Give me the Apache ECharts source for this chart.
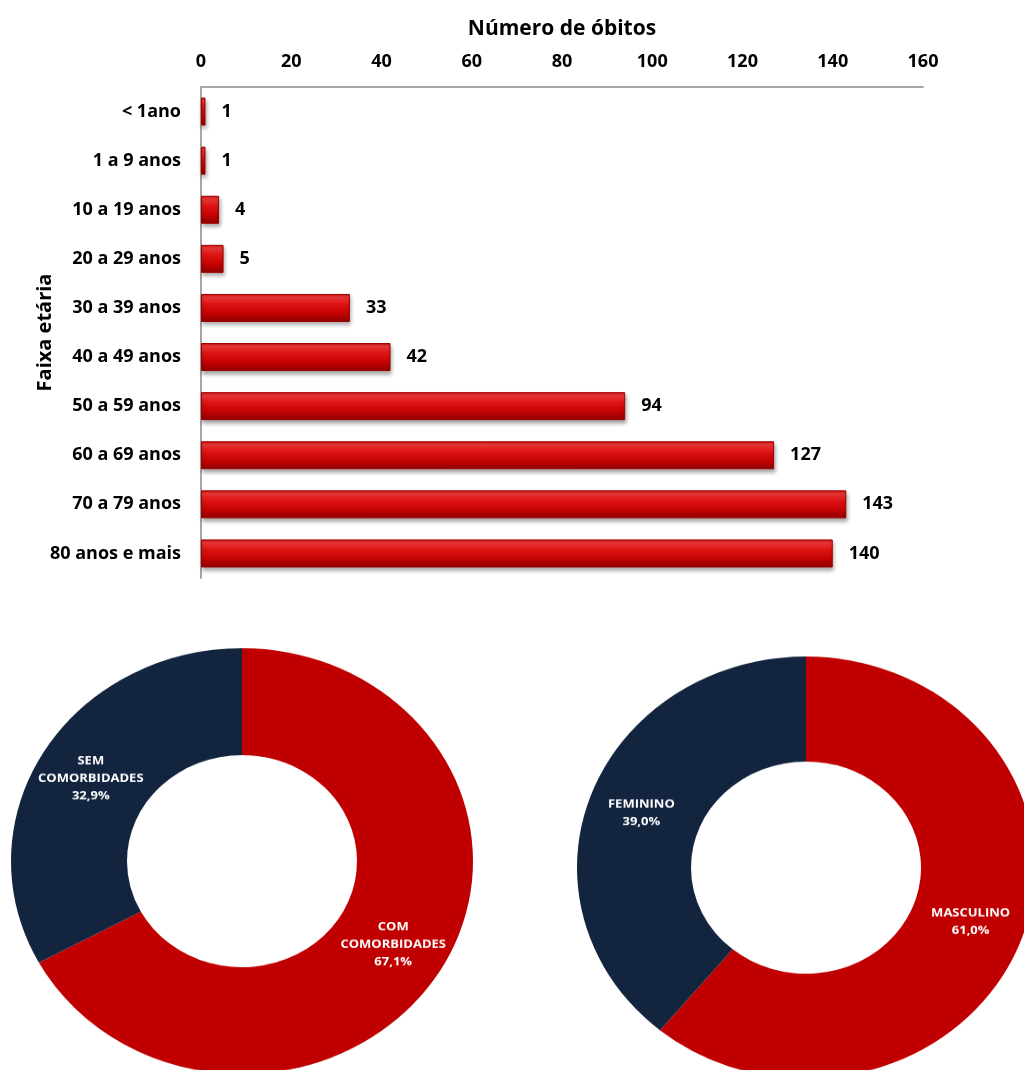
<!DOCTYPE html>
<html>
<head>
<meta charset="utf-8">
<script src="https://cdn.jsdelivr.net/npm/echarts@6/dist/echarts.min.js"></script>
<style>
html,body{margin:0;padding:0;background:#fff;overflow:hidden;}
#wrap{position:relative;width:1024px;height:1070px;overflow:hidden;background:#fff;}
#bars{position:absolute;left:0;top:0;width:1024px;height:600px;}
#pies{position:absolute;left:0;top:0;width:1024px;height:1180px;transform:scaleY(0.922);transform-origin:0 0;}
</style>
</head>
<body>
<div id="wrap">
  <div id="bars"></div>
  <div id="pies"></div>
</div>
<script>
// ---- Data ----
const ageCategories = ['< 1ano', '1 a 9 anos', '10 a 19 anos', '20 a 29 anos', '30 a 39 anos',
  '40 a 49 anos', '50 a 59 anos', '60 a 69 anos', '70 a 79 anos', '80 anos e mais'];
const deaths = [1, 1, 4, 5, 33, 42, 94, 127, 143, 140];
const xTicks = [0, 20, 40, 60, 80, 100, 120, 140, 160];

const comorbNames = ['COM\nCOMORBIDADES', 'SEM\nCOMORBIDADES'];
const comorbValues = [67.1, 32.9];
const sexNames = ['MASCULINO', 'FEMININO'];
const sexValues = [61.0, 39.0];

const RED = '#c00000';
const NAVY = '#13243f';
const FONT = '"Open Sans", Lato, sans-serif';

// ---- Bar chart ----
const barChart = echarts.init(document.getElementById('bars'));

const barGradient = new echarts.graphic.LinearGradient(0, 0, 0, 1, [
  { offset: 0, color: '#c81010' },
  { offset: 0.12, color: '#f23a3a' },
  { offset: 0.35, color: '#e01515' },
  { offset: 0.7, color: '#c40202' },
  { offset: 1, color: '#8c0000' }
]);

barChart.setOption({
  animation: false,
  textStyle: { fontFamily: FONT },
  grid: { left: 201, right: 101, top: 87, height: 491, containLabel: false },
  xAxis: {
    type: 'value',
    position: 'top',
    min: xTicks[0],
    max: xTicks[xTicks.length - 1],
    interval: 20,
    name: 'Número de óbitos',
    nameLocation: 'middle',
    nameGap: 47,
    nameTextStyle: { fontFamily: FONT, fontWeight: 'bold', fontSize: 21, color: '#000' },
    axisLine: { show: true, lineStyle: { color: '#a6a6a6', width: 2 } },
    axisTick: { show: false },
    splitLine: { show: false },
    axisLabel: { fontFamily: FONT, fontWeight: 'bold', fontSize: 18, color: '#000', margin: 16 }
  },
  yAxis: {
    type: 'category',
    data: ageCategories,
    inverse: true,
    name: 'Faixa etária',
    nameLocation: 'middle',
    nameGap: 146,
    nameMoveOverlap: false,
    nameRotate: 90,
    nameTextStyle: { fontFamily: FONT, fontWeight: 'bold', fontSize: 20, color: '#000' },
    axisLine: { show: true, lineStyle: { color: '#a6a6a6', width: 2 } },
    axisTick: { show: false },
    axisLabel: { fontFamily: FONT, fontWeight: 'bold', fontSize: 18, color: '#000', margin: 20 }
  },
  series: [
    {
      type: 'bar',
      data: deaths,
      barWidth: '57%',
      itemStyle: {
        color: barGradient,
        borderColor: '#a00000',
        borderWidth: 1,
        shadowColor: 'rgba(0,0,0,0.35)',
        shadowBlur: 4,
        shadowOffsetY: 3,
        shadowOffsetX: 1
      },
      label: {
        show: true,
        position: 'right',
        distance: 16,
        fontFamily: FONT,
        fontWeight: 'bold',
        fontSize: 18,
        color: '#000'
      }
    }
  ]
});

// ---- Donut charts (slightly flattened, as in the reference) ----
const pieChart = echarts.init(document.getElementById('pies'));

function pctLabel(p) {
  return p.name + '\n' + p.value.toFixed(1).replace('.', ',') + '%';
}

const pieLabel = {
  show: true,
  position: 'inside',
  formatter: pctLabel,
  color: '#fff',
  fontFamily: FONT,
  fontWeight: 'bold',
  fontSize: 13,
  lineHeight: 19
};

pieChart.setOption({
  animation: false,
  series: [
    {
      type: 'pie',
      center: [242, 934],
      radius: [115, 231],
      startAngle: 90,
      clockwise: true,
      silent: true,
      data: comorbNames.map((n, i) => ({ name: n, value: comorbValues[i], itemStyle: { color: i === 0 ? RED : NAVY } })),
      label: pieLabel,
      labelLine: { show: false }
    },
    {
      type: 'pie',
      center: [806, 941],
      radius: [115, 229],
      startAngle: 90,
      clockwise: true,
      silent: true,
      data: sexNames.map((n, i) => ({ name: n, value: sexValues[i], itemStyle: { color: i === 0 ? RED : NAVY } })),
      label: pieLabel,
      labelLine: { show: false }
    }
  ]
});
</script>
</body>
</html>
